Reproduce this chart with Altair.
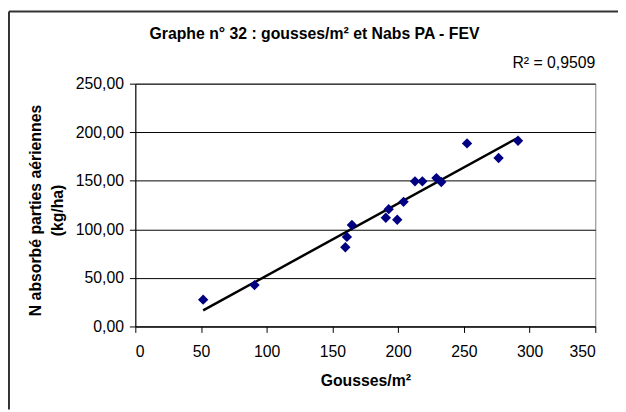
import altair as alt
import pandas as pd

# Data
gousses = [51.6, 90.7, 159.8, 161.0, 164.8, 190.6, 192.8, 199.3, 204.1, 212.8,
           218.4, 229.1, 232.8, 252.4, 276.4, 291.2]
nabs = [27.6, 42.6, 81.6, 92.2, 104.5, 111.9, 120.8, 109.9, 128.3, 149.4,
        149.4, 152.8, 148.7, 188.5, 173.5, 191.2]
x_ticks = [0, 50, 100, 150, 200, 250, 300, 350]
y_ticks = [0, 50, 100, 150, 200, 250]
title_text = ["Graphe n° 32 : gousses/m² et Nabs PA - FEV"]
r2_text = ["R² = 0,9509"]
x_title = "Gousses/m²"
y_title = ["N absorbé parties aériennes", "(kg/ha)"]

FONT = "Liberation Sans"
df = pd.DataFrame({"g": gousses, "n": nabs})

W, H = 466, 246

x_enc = alt.X("g:Q", scale=alt.Scale(domain=[0, 350], nice=False, zero=False),
              axis=alt.Axis(values=x_ticks, title=x_title, grid=False,
                            tickSize=6, labelPadding=11, labelFontSize=16,
                            titleFontSize=16, titleFontWeight="bold",
                            titleBaseline="alphabetic", titleY=60,
                            domainColor="black", tickColor="black",
                            labelColor="black", titleColor="black",
                            labelFont=FONT, titleFont=FONT))
y_enc = alt.Y("n:Q", scale=alt.Scale(domain=[0, 250], nice=False),
              axis=alt.Axis(values=y_ticks, title=y_title, grid=True,
                            gridColor="black", gridWidth=1,
                            tickSize=6, labelPadding=6, labelFontSize=16,
                            labelExpr="replace(format(datum.value, '.2f'), '.', ',')",
                            titleFontSize=16, titleFontWeight="bold",
                            titleBaseline="middle", titleX=-101, titleY=128,
                            titleLineHeight=22, titleAngle=-90,
                            domainColor="black", tickColor="black",
                            labelColor="black", titleColor="black",
                            labelFont=FONT, titleFont=FONT))

base = alt.Chart(df)

points = base.mark_point(shape="diamond", filled=True, color="#000080",
                         size=110, opacity=1).encode(x=x_enc, y=y_enc)

trend = base.transform_regression("g", "n").mark_line(
    color="black", strokeWidth=2.5).encode(x="g:Q", y="n:Q")

title = alt.Chart(pd.DataFrame({"t": title_text})).mark_text(
    font=FONT, fontSize=16, fontWeight="bold", color="black",
    align="center", baseline="alphabetic").encode(
    text="t:N", x=alt.value(181.5), y=alt.value(-45))

r2 = alt.Chart(pd.DataFrame({"t": r2_text})).mark_text(
    font=FONT, fontSize=16, color="black",
    align="right", baseline="alphabetic").encode(
    text="t:N", x=alt.value(466), y=alt.value(-16))

frame_top = alt.Chart(pd.DataFrame({"a": [0]})).mark_rule(
    color="#333333", strokeWidth=2).encode(
    x=alt.value(-128), x2=alt.value(489), y=alt.value(-73))
frame_left = alt.Chart(pd.DataFrame({"a": [0]})).mark_rule(
    color="#333333", strokeWidth=2).encode(
    x=alt.value(-128), y=alt.value(-73), y2=alt.value(330))

chart = alt.layer(trend, points, title, r2, frame_top, frame_left).properties(
    width=W, height=H,
    autosize=alt.AutoSizeParams(type="none"),
    padding={"left": 129, "top": 74, "right": 23, "bottom": 84},
    background="white",
).configure_view(stroke="#808080", strokeWidth=1)

chart.save("out.html", embed_options={"renderer": "svg", "actions": False})
